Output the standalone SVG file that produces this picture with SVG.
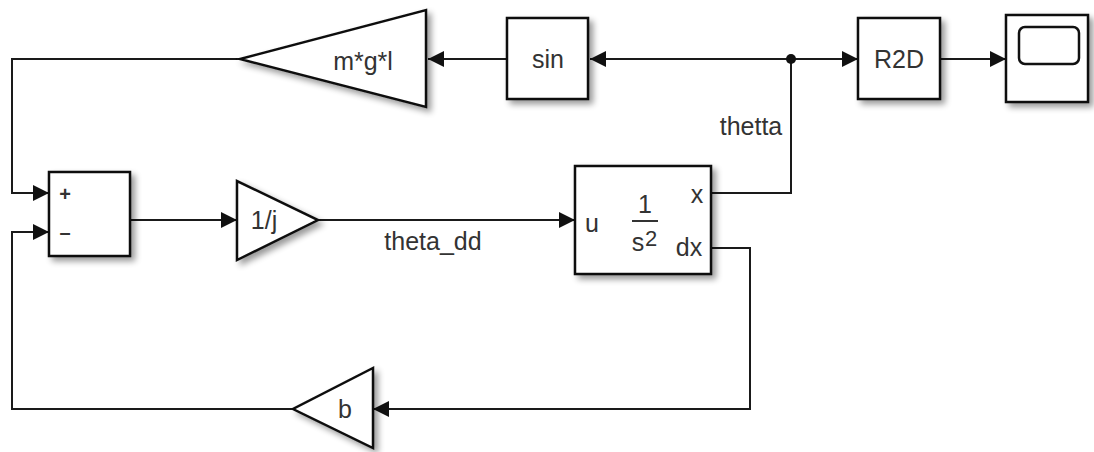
<svg xmlns="http://www.w3.org/2000/svg" width="1094" height="452" viewBox="0 0 1094 452">
<style>
.blk{fill:#fff;stroke:#111;stroke-width:2.5;filter:url(#sh)}
.ln{fill:none;stroke:#1a1a1a;stroke-width:2}
.arr{marker-end:url(#ah)}
text{font-family:"Liberation Sans",Arial,sans-serif;fill:#333;font-size:25px}
.c{text-anchor:middle}
</style>
<defs>
<filter id="sh" x="-20%" y="-20%" width="150%" height="150%">
<feGaussianBlur in="SourceAlpha" stdDeviation="3"/>
<feOffset dx="4" dy="4" result="b"/>
<feComponentTransfer><feFuncA type="linear" slope="0.4"/></feComponentTransfer>
<feMerge><feMergeNode/><feMergeNode in="SourceGraphic"/></feMerge>
</filter>
<marker id="ah" viewBox="0 0 10 10" refX="10" refY="5" markerWidth="19" markerHeight="16" markerUnits="userSpaceOnUse" orient="auto">
<path d="M0,0 L10,5 L0,10 z" fill="#111"/>
</marker>
</defs>
<g id="connectors">
<path class="ln arr" d="M507,59 H428"/>
<path class="ln arr" d="M791,59 H590"/>
<path class="ln arr" d="M791,59 H858"/>
<path class="ln arr" d="M940,59 H1006"/>
<path class="ln" d="M711,193 H791 V59"/>
<circle cx="791" cy="59" r="5" fill="#111"/>
<path class="ln arr" d="M240,59 H12 V193 H49"/>
<path class="ln arr" d="M130,220 H237"/>
<path class="ln arr" d="M318,220 H575"/>
<path class="ln arr" d="M711,248 H750 V409 H373"/>
<path class="ln arr" d="M293,409 H12 V232 H49"/>
<text x="751" y="135" class="c">thetta</text>
<text x="433" y="250" class="c">theta_dd</text>
</g>
<g id="gain_mgl">
<polygon class="blk" points="426,10 426,107 240,59"/>
<text x="363" y="70" class="c">m*g*l</text>
</g>
<g id="sin">
<rect class="blk" x="507" y="18" width="81" height="81"/>
<text x="548" y="68" class="c">sin</text>
</g>
<g id="r2d">
<rect class="blk" x="858" y="18" width="82" height="81"/>
<text x="899" y="68" class="c">R2D</text>
</g>
<g id="scope">
<rect class="blk" x="1006" y="15" width="82" height="87"/>
<rect x="1019" y="27" width="60" height="37" rx="6" fill="none" stroke="#111" stroke-width="2.5"/>
</g>
<g id="sum">
<rect class="blk" x="49" y="172" width="81" height="84"/>
<text x="65" y="201" class="c" style="font-size:20px;font-weight:bold">+</text>
<text x="65" y="239" class="c" style="font-size:20px;font-weight:bold">–</text>
</g>
<g id="gain_1j">
<polygon class="blk" points="237,181 237,260 318,220"/>
<text x="264" y="229" class="c">1/j</text>
</g>
<g id="integrator">
<rect class="blk" x="575" y="166" width="136" height="108"/>
<text x="592" y="232" class="c">u</text>
<text x="645" y="213" class="c">1</text>
<line x1="632" y1="221" x2="658" y2="221" stroke="#333" stroke-width="2"/>
<text x="638" y="251" class="c">s</text>
<text x="651" y="246" class="c" style="font-size:22px">2</text>
<text x="697" y="203" class="c">x</text>
<text x="689" y="256" class="c">dx</text>
</g>
<g id="gain_b">
<polygon class="blk" points="373,368 373,448 293,409"/>
<text x="345" y="418" class="c">b</text>
</g>
</svg>
